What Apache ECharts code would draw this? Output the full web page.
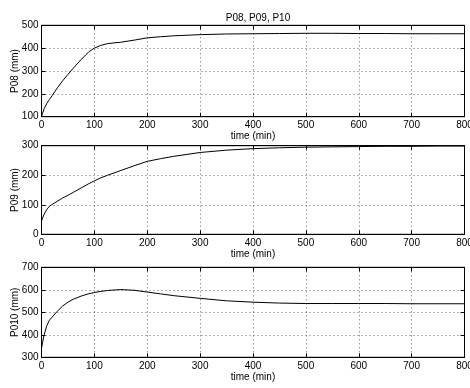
<!DOCTYPE html>
<html>
<head>
<meta charset="utf-8">
<script src="https://cdn.jsdelivr.net/npm/echarts@6/dist/echarts.min.js"></script>
<style>html,body{margin:0;padding:0;background:#fff;}#c{width:470px;height:388px;}</style>
</head>
<body>
<div id="c"></div>
<script>
const title = "P08, P09, P10";
const xName = "time (min)";
const yNames = ["P08 (mm)", "P09 (mm)", "P010 (mm)"];
const time = [0,2,5,10,15,20,30,40,50,60,75,90,100,112,125,150,175,200,225,250,300,350,400,450,500,550,600,650,700,750,800];
const p08 = [100,115,135,158,175,192,226,257,285,312,350,385,400,412,420,426,435,445,450,454,459,462,463,464,465,465,464,464,463,463,463];
const p09 = [45,55,68,84,95,101,112,123,132,142,157,172,181,191,200,216,232,247,256,264,277,285,290,293,295,296,297,298,298,299,299];
const p10 = [340,365,400,440,465,478,505,528,545,558,572,583,588,593,597,601,598,590,582,574,562,551,545,541,539,539,539,539,538,538,538];
const xTicks = [0,100,200,300,400,500,600,700,800];
const yRanges = [[100,500,100],[0,300,100],[300,700,100]];
const seriesData = [p08, p09, p10];

const FONT = "'Liberation Sans', Arial, sans-serif";
const grids = [
  {left: 41.5, width: 423, top: 25.3, height: 91.4},
  {left: 41.5, width: 423, top: 145.7, height: 88.6},
  {left: 41.5, width: 423, top: 267.3, height: 90}
];
const xAxes = [], yAxes = [], series = [];
grids.forEach((g, i) => {
  g.show = true; g.borderColor = '#000'; g.borderWidth = 1; g.backgroundColor = '#fff';
  g.containLabel = false; g.outerBoundsMode = 'none';
  xAxes.push({
    type: 'value', gridIndex: i, min: xTicks[0], max: xTicks[xTicks.length-1], interval: 100,
    position: 'bottom', name: xName, nameLocation: 'middle', nameGap: 15, nameMoveOverlap: false,
    nameTextStyle: {fontFamily: FONT, fontSize: 10, color: '#000'},
    axisLine: {show: true, onZero: false, lineStyle: {color: '#000', width: 1}},
    axisTick: {show: true, inside: true, length: 4, lineStyle: {color: '#000'}},
    axisLabel: {fontFamily: FONT, fontSize: 10, color: '#000', margin: 4, hideOverlap: false},
    splitLine: {show: true, lineStyle: {color: '#666', type: [1, 3], width: 1}}
  });
  xAxes.push({
    type: 'value', gridIndex: i, min: xTicks[0], max: xTicks[xTicks.length-1], interval: 100,
    position: 'top',
    axisLine: {show: true, onZero: false, lineStyle: {color: '#000', width: 1}},
    axisTick: {show: true, inside: true, length: 4, lineStyle: {color: '#000'}},
    axisLabel: {show: false}, splitLine: {show: false}
  });
  const r = yRanges[i];
  yAxes.push({
    type: 'value', gridIndex: i, min: r[0], max: r[1], interval: r[2],
    position: 'left', name: yNames[i], nameLocation: 'middle', nameGap: 21, nameRotate: 90,
    nameMoveOverlap: false,
    nameTextStyle: {fontFamily: FONT, fontSize: 10, color: '#000'},
    axisLine: {show: true, onZero: false, lineStyle: {color: '#000', width: 1}},
    axisTick: {show: true, inside: true, length: 4, lineStyle: {color: '#000'}},
    axisLabel: {fontFamily: FONT, fontSize: 10, color: '#000', margin: 3},
    splitLine: {show: true, lineStyle: {color: '#666', type: [1, 3], width: 1}}
  });
  yAxes.push({
    type: 'value', gridIndex: i, min: r[0], max: r[1], interval: r[2],
    position: 'right',
    axisLine: {show: true, onZero: false, lineStyle: {color: '#000', width: 1}},
    axisTick: {show: true, inside: true, length: 4, lineStyle: {color: '#000'}},
    axisLabel: {show: false}, splitLine: {show: false}
  });
  series.push({
    type: 'line', xAxisIndex: i*2, yAxisIndex: i*2, showSymbol: false, symbol: 'none',
    data: time.map((t, k) => [t, seriesData[i][k]]),
    lineStyle: {color: '#000', width: 1}, animation: false, z: 5
  });
});

const chart = echarts.init(document.getElementById('c'), null, {renderer: 'canvas'});
chart.setOption({
  animation: false,
  backgroundColor: '#fff',
  title: {text: title, left: 253, top: 8, textAlign: 'center',
    textStyle: {fontFamily: FONT, fontSize: 10, fontWeight: 'normal', color: '#000'}},
  grid: grids, xAxis: xAxes, yAxis: yAxes, series: series
});
</script>
</body>
</html>
